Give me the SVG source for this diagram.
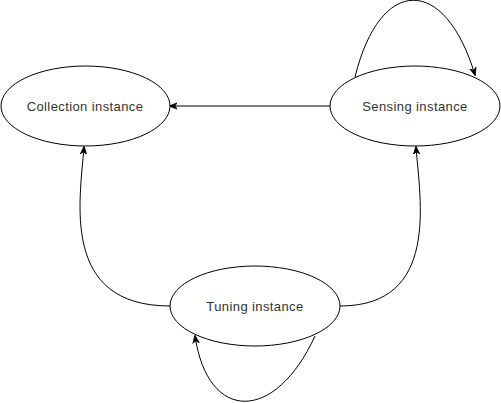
<svg xmlns="http://www.w3.org/2000/svg" width="501" height="403" viewBox="0 0 501 403">
<style>
.node ellipse{fill:#ffffff;stroke:#000000;stroke-width:1}
.node text{font-family:"Liberation Sans",Arial,sans-serif;font-size:13px;letter-spacing:0.4px;fill:#333333;text-anchor:middle;dominant-baseline:central}
.edges path{fill:none;stroke:#000000;stroke-width:1;marker-end:url(#arr)}
</style>
<defs>
<marker id="arr" viewBox="0 0 10 10" refX="9" refY="5" markerWidth="8" markerHeight="8" markerUnits="userSpaceOnUse" orient="auto">
<path d="M0 1 L10 5 L0 9 L3 5 Z" fill="#000000" stroke="#000000" stroke-width="1"/>
</marker>
</defs>
<rect width="501" height="403" fill="#ffffff"/>
<g class="edges" id="connectors">
<path d="M330 106 L170 106"/>
<path d="M170 306 C60 306 80 200 84 147"/>
<path d="M340 306 C440 306 420 200 416 147"/>
<path d="M355 77 C380 -25 445 -25 475 75"/>
<path d="M315 336 C275 423 208 423 195 336"/>
</g>
<g class="node" id="collection">
<ellipse cx="85.5" cy="106" rx="84.5" ry="40"/>
<text x="85" y="106">Collection instance</text>
</g>
<g class="node" id="sensing">
<ellipse cx="415" cy="106" rx="85" ry="40"/>
<text x="415" y="106">Sensing instance</text>
</g>
<g class="node" id="tuning">
<ellipse cx="255" cy="306" rx="85" ry="40"/>
<text x="255" y="306">Tuning instance</text>
</g>
</svg>
